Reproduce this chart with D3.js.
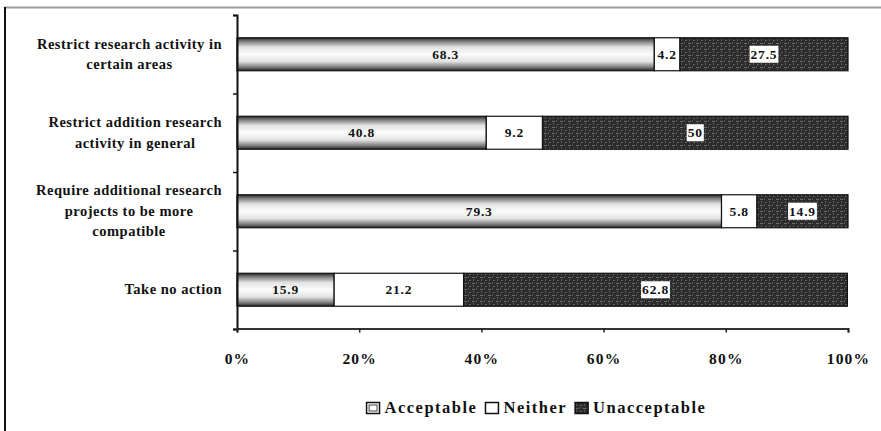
<!DOCTYPE html>
<html><head><meta charset="utf-8">
<script src="https://cdn.jsdelivr.net/npm/d3@7"></script>
<style>body{margin:0;background:#fff}svg{display:block}svg text{font-family:"Liberation Serif","Times New Roman",Tinos,serif;font-weight:bold}</style>
</head><body>
<svg id="c" width="881" height="431"></svg>
<script>
const categories = ["Restrict research activity in certain areas","Restrict addition research activity in general","Require additional research projects to be more compatible","Take no action"];
const categoryLines = [["Restrict research activity in","certain areas"],["Restrict addition research","activity in general"],["Require additional research","projects to be more","compatible"],["Take no action"]];
const acceptable = [68.3, 40.8, 79.3, 15.9];
const neither = [4.2, 9.2, 5.8, 21.2];
const unacceptable = [27.5, 50, 14.9, 62.8];
const seriesNames = ["Acceptable","Neither","Unacceptable"];
const xTicks = [0, 20, 40, 60, 80, 100];

const svg = d3.select("#c");
const defs = svg.append("defs");
// acceptable: light stipple with darker edges
const g1 = defs.append("linearGradient").attr("id","accGrad").attr("x1",0).attr("y1",0).attr("x2",0).attr("y2",1);
[[0,"#262626"],[0.1,"#777"],[0.28,"#e2e2e2"],[0.5,"#fcfcfc"],[0.72,"#e2e2e2"],[0.9,"#777"],[1,"#262626"]]
  .forEach(([o,c])=>g1.append("stop").attr("offset",o).attr("stop-color",c));
// unacceptable: dark with light specks
const p2 = defs.append("pattern").attr("id","unaccPat").attr("patternUnits","userSpaceOnUse").attr("width",8).attr("height",6);
p2.append("rect").attr("width",8).attr("height",6).attr("fill","#2c2c2c");
p2.append("rect").attr("x",0).attr("y",1).attr("width",3).attr("height",1).attr("fill","#6e6e6e");
p2.append("rect").attr("x",5).attr("y",4).attr("width",2).attr("height",1).attr("fill","#626262");
p2.append("rect").attr("x",4).attr("y",0).attr("width",1).attr("height",2).attr("fill","#555");
p2.append("rect").attr("x",1).attr("y",3).attr("width",1).attr("height",2).attr("fill","#5a5a5a");
const fills = ["url(#accGrad)","#ffffff","url(#unaccPat)"];

// frame
svg.append("line").attr("x1",4).attr("x2",881).attr("y1",7.5).attr("y2",7.5).attr("stroke","#9a9a9a").attr("stroke-width",2);
svg.append("line").attr("x1",5).attr("x2",5).attr("y1",7).attr("y2",431).attr("stroke","#111").attr("stroke-width",2);

const x = d3.scaleLinear().domain([0,100]).range([237,848]);
const y = d3.scaleBand().domain(categories).range([15,329]).paddingInner(0.58).paddingOuter(0.29);
const yEdge = d3.scaleLinear().domain([0,categories.length]).range([15,329]);

// stack
const rows = categories.map((c,i)=>({cat:c, Acceptable:acceptable[i], Neither:neither[i], Unacceptable:unacceptable[i]}));
const stack = d3.stack().keys(seriesNames)(rows);

const gBars = svg.append("g");
stack.forEach((layer,si)=>{
  gBars.selectAll(null).data(layer).join("rect")
    .attr("x",d=>x(d[0])).attr("y",d=>y(d.data.cat))
    .attr("width",d=>x(d[1])-x(d[0])).attr("height",y.bandwidth())
    .attr("fill",fills[si]).attr("stroke","#111").attr("stroke-width",1.2);
});
// value labels
stack.forEach((layer,si)=>{
  layer.forEach(d=>{
    const cx = (x(d[0])+x(d[1]))/2, cy = y(d.data.cat)+y.bandwidth()/2;
    const v = d[1]-d[0];
    const g = gBars.append("g");
    const t = g.append("text").attr("x",cx).attr("y",cy+4.5).attr("text-anchor","middle")
      .attr("font-size",13.5).attr("letter-spacing",0.8)
      .attr("fill","#111").text(d3.format(".3~f")(+v.toFixed(1)));
    if(si===2){
      const bb = t.node().getBBox();
      g.insert("rect","text").attr("x",bb.x-1).attr("y",cy-8.5).attr("width",bb.width+2).attr("height",17).attr("fill","#fff");
    }
  });
});

// y axis
const yAxis = svg.append("g").attr("transform","translate(237,0)")
  .call(d3.axisLeft(yEdge).tickValues(d3.range(categories.length+1)).tickSize(4).tickSizeOuter(4).tickFormat(""));
yAxis.select(".domain").attr("stroke","#111").attr("stroke-width",2);
yAxis.selectAll(".tick line").attr("stroke","#111").attr("stroke-width",1.5);

// x axis
const xAxis = svg.append("g").attr("transform","translate(0,328.5)")
  .call(d3.axisBottom(x).tickValues(xTicks).tickSize(4).tickSizeOuter(4).tickPadding(20).tickFormat(d=>d+"%"));
xAxis.select(".domain").attr("stroke","#333").attr("stroke-width",2);
xAxis.selectAll(".tick line").attr("stroke","#222").attr("stroke-width",1.5);
xAxis.selectAll(".tick text").attr("font-family",null).attr("font-size",15.5)
  .attr("letter-spacing",1.2).attr("fill","#111");
xAxis.attr("font-family",null);

// category labels
const gLab = svg.append("g");
categories.forEach((c,i)=>{
  const lines = categoryLines[i];
  const cy = y(c)+y.bandwidth()/2;
  const g = gLab.append("g");
  const ts = lines.map((ln,j)=>g.append("text").attr("y",cy+(j-(lines.length-1)/2)*20.5+4.5)
    .attr("text-anchor","middle").attr("font-size",14.5)
    .attr("letter-spacing",0.5).attr("fill","#111").text(ln));
  const maxW = d3.max(ts,t=>t.node().getComputedTextLength());
  ts.forEach(t=>t.attr("x",222-maxW/2));
});

// legend
const leg = svg.append("g");
let lx = 0;
seriesNames.forEach((s,i)=>{
  const g = leg.append("g").attr("transform",`translate(${lx},0)`);
  g.append("rect").attr("x",0).attr("y",-10.5).attr("width",13).attr("height",11).attr("fill",i===2?fills[2]:"#fff").attr("stroke","#111").attr("stroke-width",1.5);
  if(i===0) g.append("rect").attr("x",2.5).attr("y",-8).attr("width",8).attr("height",6).attr("fill","#fff").attr("stroke","#444").attr("stroke-width",1);
  const t = g.append("text").attr("x",18).attr("y",0)
    .attr("font-size",16.5).attr("letter-spacing",1.5).attr("fill","#111").text(s);
  lx += 18 + t.node().getComputedTextLength() + 8;
});
const totalW = lx - 8;
leg.attr("transform",`translate(${536.5-totalW/2},413)`);
</script>
</body></html>
